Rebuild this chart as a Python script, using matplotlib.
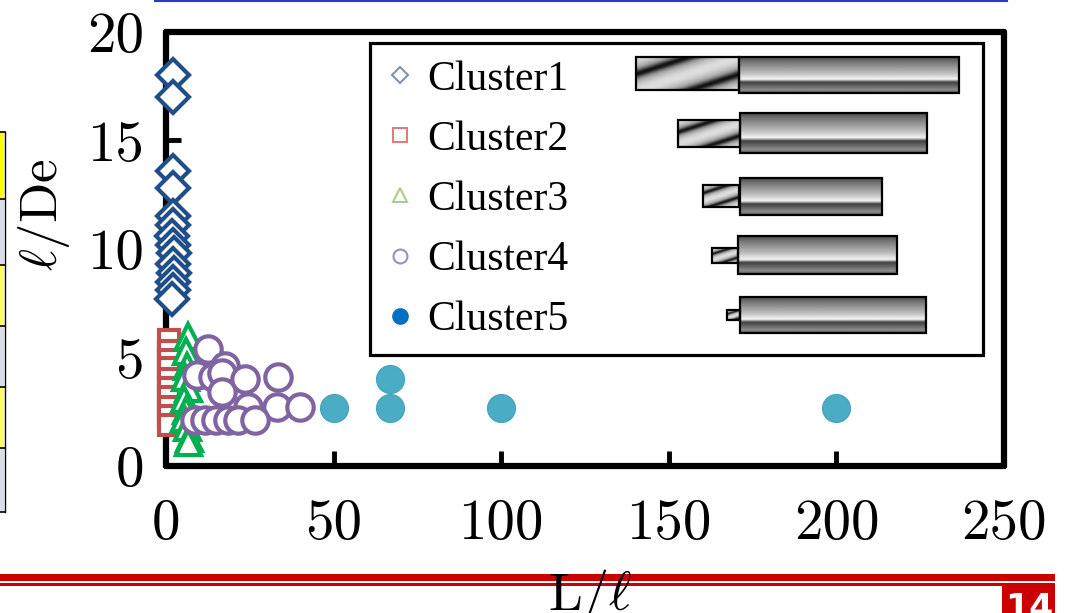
import numpy as np
import matplotlib
matplotlib.use("Agg")
import matplotlib.pyplot as plt
from matplotlib.lines import Line2D
from matplotlib.patches import Rectangle

plt.rcParams['mathtext.fontset'] = 'cm'

# ---------------- data ----------------
c1_x = [2.0, 2.0, 2.0, 2.0, 2.0, 2.2, 1.8, 2.0, 2.3, 2.0, 2.4, 2.0, 2.1, 1.8]
c1_y = [18.0, 17.0, 13.6, 12.8, 11.5, 11.1, 10.6, 10.2, 9.8, 9.3, 8.9, 8.5, 8.1, 7.7]

c2_x = [1.0, 1.0, 1.0, 1.0, 1.0, 1.0, 1.0, 1.0, 1.0, 1.0]
c2_y = [5.8, 5.3, 4.9, 4.5, 4.0, 3.6, 3.2, 2.7, 2.3, 1.9]

c3_x = [6.5, 6.0, 6.2, 5.8, 6.5, 5.5, 6.0, 5.5, 6.3, 7.0, 6.5]
c3_y = [6.0, 5.3, 4.6, 4.1, 3.6, 3.1, 2.6, 2.2, 1.8, 1.3, 1.1]

c4_x = [12.5, 9.3, 14.0, 17.6, 16.7, 23.5, 33.4, 16.7, 24.5, 33.0, 40.0, 8.7, 11.6, 15.0, 18.5, 21.5, 26.6]
c4_y = [5.4, 4.2, 4.1, 4.6, 4.3, 4.0, 4.1, 3.4, 2.7, 2.7, 2.7, 2.1, 2.1, 2.1, 2.1, 2.1, 2.1]

c5_x = [50.0, 66.7, 66.7, 100.0, 200.0]
c5_y = [2.67, 2.67, 4.0, 2.67, 2.67]

labels = ["Cluster1", "Cluster2", "Cluster3", "Cluster4", "Cluster5"]
xticks = [0, 50, 100, 150, 200, 250]
yticks = [0, 5, 10, 15, 20]
xtick_labels = ["0", "50", "100", "150", "200", "250"]
ytick_labels = ["0", "5", "10", "15", "20"]

# ---------------- figure ----------------
W, H = 1066, 613
fig = plt.figure(figsize=(W / 100, H / 100), dpi=100, facecolor='white')

# overlay (decorations) under the main axes
ov = fig.add_axes([0, 0, 1, 1], zorder=0)
ov.set_xlim(0, W)
ov.set_ylim(H, 0)
ov.axis('off')

ax = fig.add_axes([166 / W, (H - 466) / H, (1004 - 166) / W, (466 - 32) / H], zorder=1)
ax.patch.set_alpha(0)

mew = 3.0
ax.plot(c1_x, c1_y, 'D', ms=16, mfc='white', mec='#1F4E89', mew=mew, ls='none', zorder=3, clip_on=False)
ax.plot(c2_x, c2_y, 's', ms=15, mfc='white', mec='#C0504D', mew=mew, ls='none', zorder=3, clip_on=False)
ax.plot(c3_x, c3_y, '^', ms=18, mfc='white', mec='#00B050', mew=mew, ls='none', zorder=3, clip_on=False)
ax.plot(c4_x, c4_y, 'o', ms=19, mfc='white', mec='#8064A2', mew=mew, ls='none', zorder=3, clip_on=False)
ax.plot(c5_x, c5_y, 'o', ms=20, mfc='#4BACC6', mec='#46A6BF', mew=1, ls='none', zorder=3, clip_on=False)

ax.set_xlim(0, 250)
ax.set_ylim(0, 20)
ax.set_xticks(xticks, xtick_labels)
ax.set_yticks(yticks, ytick_labels)
ax.tick_params(direction='in', length=11, width=3.5, labelsize=41, labelfontfamily='cmr10')
ax.tick_params(axis='x', pad=24)
ax.tick_params(axis='y', pad=16)
for sp in ax.spines.values():
    sp.set_linewidth(4.5)
    sp.set_capstyle('round')
    sp.set_joinstyle('round')

ax.set_ylabel(r'$\ell/\mathrm{De}$', fontsize=38)
ax.yaxis.set_label_coords(-0.112, 0.58)
ax.set_xlabel(r'$\mathrm{L}/\ell$', fontsize=39, va='top')
ax.xaxis.set_label_coords(0.506, -0.232)

# legend frame
ax.add_patch(Rectangle((0.2434, 0.2558), 0.975 - 0.2434, 0.9747 - 0.2558, transform=ax.transAxes,
                       fill=False, ec='black', lw=2.3, zorder=5, clip_on=False))

handles = [
    Line2D([], [], marker='D', ms=8, mfc='white', mec='#7F93AE', mew=1.5, ls='none'),
    Line2D([], [], marker='s', ms=10, mfc='white', mec='#D9807E', mew=1.5, ls='none'),
    Line2D([], [], marker='^', ms=10, mfc='white', mec='#A8D08D', mew=1.5, ls='none'),
    Line2D([], [], marker='o', ms=10, mfc='white', mec='#A08CC0', mew=1.5, ls='none'),
    Line2D([], [], marker='o', ms=11, mfc='#0070C0', mec='#0070C0', mew=1, ls='none'),
]
leg = ax.legend(handles, labels, loc='upper left', bbox_to_anchor=(0.262, 0.935),
                frameon=False, borderpad=0, borderaxespad=0, labelspacing=0.52,
                handlelength=0.7, handletextpad=0.3,
                prop={'family': 'Liberation Serif', 'size': 30})
leg.set_zorder(6)

# ---------------- tool drawings (decorative) ----------------
prof_pos = [0.0, 0.12, 0.45, 0.62, 0.70, 0.78, 0.92, 1.0]
prof_val = [0.30, 0.45, 0.75, 0.96, 0.25, 0.36, 0.55, 0.35]

def shank(x0, x1, y0, y1):
    n = 60
    t = np.linspace(0, 1, n)
    v = np.interp(t, prof_pos, prof_val)[:, None]
    ov.imshow(np.repeat(v, 2, axis=1), cmap='gray', vmin=0, vmax=1, aspect='auto',
              extent=(x0, x1, y1, y0), interpolation='bilinear', zorder=2)
    ov.add_patch(Rectangle((x0, y0), x1 - x0, y1 - y0, fill=False, ec='black', lw=1.6, zorder=3))

def flute(x0, x1, y0, y1, period):
    w = max(int(x1 - x0) * 2, 4)
    h = max(int(y1 - y0) * 2, 4)
    xx, yy = np.meshgrid(np.linspace(0, x1 - x0, w), np.linspace(0, y1 - y0, h))
    u = (yy + xx * np.tan(np.radians(18))) / period
    ph = u - np.floor(u)
    v = 0.72 - 0.5 * np.exp(-((ph - 0.5) / 0.12) ** 2) + 0.15 * np.cos(2 * np.pi * ph)
    ov.imshow(np.clip(v, 0, 1), cmap='gray', vmin=0, vmax=1, aspect='auto',
              extent=(x0, x1, y1, y0), interpolation='bilinear', zorder=2)
    ov.add_patch(Rectangle((x0, y0), x1 - x0, y1 - y0, fill=False, ec='black', lw=1.6, zorder=3))

tools = [
    ((636, 739, 57, 90), (739, 959, 57, 93), 34),
    ((678, 740, 120, 147), (740, 927, 113, 153), 24),
    ((703, 739, 185, 207), (740, 882, 178, 215), 16),
    ((712, 738, 248, 263), (738, 897, 236, 274), 12),
    ((727, 740, 310, 320), (740, 926, 297, 333), 8),
]
for fl, sh, per in tools:
    flute(*fl, per)
    shank(*sh)

# ---------------- slide decorations ----------------
ov.plot([155, 1007], [0.8, 0.8], color='#3535CC', lw=1.5, zorder=2)
ov.add_patch(Rectangle((0, 574), 1055, 7, color='#CC0000', lw=0, zorder=2))
ov.add_patch(Rectangle((0, 583), 1002, 3, color='#CC0000', lw=0, zorder=2))
ov.add_patch(Rectangle((1002, 583), 53, 40, color='#CC0000', lw=0, zorder=2))
ov.text(1029, 592, '14', color='white', fontsize=25, fontweight='bold', family='DejaVu Sans',
        ha='center', va='top', zorder=3)

cell_edges = [132, 199, 265, 326, 387, 448, 512]
cell_cols = ['#FFFF00', '#D9DEE8', '#FFFF66', '#D9DEE8', '#FFFF66', '#D9DEE8']
for i, c in enumerate(cell_cols):
    ov.add_patch(Rectangle((0, cell_edges[i]), 4, cell_edges[i + 1] - cell_edges[i], color=c, lw=0, zorder=2))
for e in cell_edges:
    ov.plot([0, 4.5], [e, e], color='black', lw=1.2, zorder=3)
ov.plot([4.5, 4.5], [cell_edges[0], cell_edges[-1]], color='black', lw=1.0, zorder=3)

fig.savefig('out.png', dpi=100, facecolor='white')
